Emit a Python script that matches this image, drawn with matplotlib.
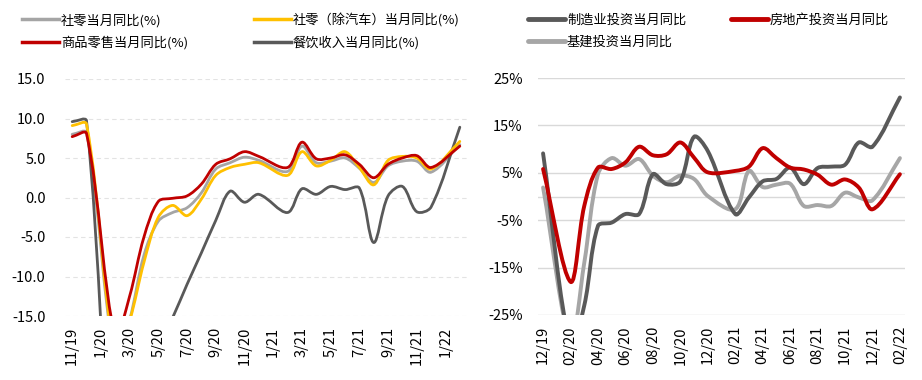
import numpy as np
import matplotlib
matplotlib.use("Agg")
import matplotlib.pyplot as plt
from matplotlib.path import Path
from matplotlib.patches import PathPatch
from matplotlib.lines import Line2D

plt.rcParams['font.family'] = ['Noto Sans CJK SC', 'DejaVu Sans']

# ---------------- data: left chart ----------------
left_months = ['11/19', '12/19', '1/20', '2/20', '3/20', '4/20', '5/20', '6/20', '7/20', '8/20',
               '9/20', '10/20', '11/20', '12/20', '1/21', '2/21', '3/21', '4/21', '5/21', '6/21',
               '7/21', '8/21', '9/21', '10/21', '11/21', '12/21', '1/22', '2/22']
retail_total = [8.0, 8.2, None, -20.5, -15.5, -7.3, -3.0, -1.9, -1.3, 0.6, 3.6, 4.4, 5.1, 4.7,
                None, 3.3, 6.5, 4.4, 4.6, 5.0, 3.7, 1.9, 4.0, 4.6, 4.6, 3.2, None, 6.7]
retail_ex_auto = [9.1, 9.3, None, -20.0, -15.6, -8.2, -2.5, -1.0, -2.3, -0.2, 2.8, 3.8, 4.2, 4.4,
                  None, 2.8, 5.8, 4.0, 4.7, 5.8, 3.8, 1.6, 4.7, 5.2, 5.0, 3.6, None, 7.1]
retail_goods = [7.7, 8.1, None, -17.6, -12.5, -5.0, -0.5, -0.1, 0.2, 1.7, 4.2, 4.9, 5.8, 5.2,
                None, 3.8, 7.0, 4.9, 5.0, 5.4, 4.2, 2.5, 4.2, 5.0, 5.3, 3.8, None, 6.5]
catering = [9.6, 9.7, None, -43.1, -46.8, -31.1, -18.9, -15.2, -11.0, -7.0, -2.9, 0.8, -0.6, 0.4,
            None, -1.9, 1.1, 0.4, 1.4, 1.0, 1.2, -5.7, 0.2, 1.4, -1.8, -1.2, None, 8.9]
left_labels = ['社零当月同比(%)', '商品零售当月同比(%)', '社零（除汽车）当月同比(%)', '餐饮收入当月同比(%)']
left_yticks = [-15, -10, -5, 0, 5, 10, 15]

# ---------------- data: right chart ----------------
right_months = ['12/19', '01/20', '02/20', '03/20', '04/20', '05/20', '06/20', '07/20', '08/20',
                '09/20', '10/20', '11/20', '12/20', '01/21', '02/21', '03/21', '04/21', '05/21',
                '06/21', '07/21', '08/21', '09/21', '10/21', '11/21', '12/21', '01/22', '02/22']
manufacturing = [9.1, None, -31.5, -23.0, -6.2, -5.5, -3.7, -3.7, 4.7, 2.6, 3.2, 12.6, 9.6,
                 None, -3.7, -0.2, 3.2, 3.7, 6.1, 2.6, 6.0, 6.3, 6.7, 11.4, 10.5, None, 20.9]
infrastructure = [1.9, None, -30.3, -14.0, 4.7, 8.1, 6.5, 7.9, 4.4, 3.0, 4.4, 3.7, 0.1,
                  None, -2.7, 5.4, 2.0, 2.5, 2.7, -2.0, -1.8, -2.0, 0.8, -0.2, -0.8, None, 8.1]
real_estate = [5.8, None, -18.0, -2.0, 6.1, 5.8, 7.2, 10.5, 8.7, 8.9, 11.4, 8.2, 5.1,
               None, 5.4, 6.3, 10.2, 8.1, 6.1, 5.7, 4.6, 2.5, 3.6, 1.9, -2.7, None, 4.7]
right_labels = ['制造业投资当月同比', '基建投资当月同比', '房地产投资当月同比']
right_yticks = [-25, -15, -5, 5, 15, 25]

TENSION = 1.0 / 3.0


def smooth_path(ax, values):
    """Smoothed (Excel-like) bezier path through the points, built in display space."""
    idx = [i for i, v in enumerate(values) if v is not None]
    data = np.array([[i, values[i]] for i in idx], dtype=float)
    P = ax.transData.transform(data)
    n = len(P)
    ctrl_in = [None] * n
    ctrl_out = [None] * n
    for i in range(n):
        p0 = P[max(i - 1, 0)]
        p1 = P[i]
        p2 = P[min(i + 1, n - 1)]
        d01 = np.hypot(*(p1 - p0))
        d12 = np.hypot(*(p2 - p1))
        tot = d01 + d12
        if tot == 0:
            ctrl_in[i] = p1
            ctrl_out[i] = p1
            continue
        fa = TENSION * d01 / tot
        fb = TENSION * d12 / tot
        ctrl_in[i] = p1 - fa * (p2 - p0)
        ctrl_out[i] = p1 + fb * (p2 - p0)
    verts = [P[0]]
    codes = [Path.MOVETO]
    for i in range(n - 1):
        verts += [ctrl_out[i], ctrl_in[i + 1], P[i + 1]]
        codes += [Path.CURVE4] * 3
    verts = ax.transData.inverted().transform(np.array(verts))
    return Path(verts, codes)


def draw(ax, values, color, lw, z=2):
    patch = PathPatch(smooth_path(ax, values), facecolor='none', edgecolor=color, lw=lw,
                      capstyle='round', joinstyle='round', zorder=z)
    ax.add_patch(patch)


fig = plt.figure(figsize=(9.22, 3.8), dpi=100)
W, H = 922, 380

C_GRAY = '#A5A5A5'
C_YEL = '#FFC000'
C_RED = '#C00000'
C_DARK = '#595959'
FS = 9.5
TFS = 10.5

# ---------------- left axes ----------------
axl = fig.add_axes([65 / W, 1 - 316 / H, 402 / W, (316 - 79) / H])
axl.set_xlim(-0.5, len(left_months) - 0.5)
axl.set_ylim(-15, 15)
draw(axl, retail_total, C_GRAY, 2.0, 2)
draw(axl, retail_ex_auto, C_YEL, 2.0, 3)
draw(axl, retail_goods, C_RED, 2.0, 4)
draw(axl, catering, C_DARK, 2.0, 2)
axl.set_yticks(left_yticks)
axl.set_yticklabels([f'{v:.1f}' for v in left_yticks])
axl.set_xticks(range(0, len(left_months), 2))
axl.set_xticklabels(left_months[::2], rotation=90)
axl.yaxis.grid(True, linestyle=(0, (4, 3)), color='#e3e3e3', lw=0.8)
axl.set_axisbelow(True)
for s in axl.spines.values():
    s.set_visible(False)
axl.tick_params(axis='both', length=0, labelsize=TFS, colors='#000000')
axl.tick_params(axis='y', pad=14)
axl.tick_params(axis='x', pad=8)

left_handles = [Line2D([], [], color=C_GRAY, lw=2.5),
                Line2D([], [], color=C_RED, lw=2.5),
                Line2D([], [], color=C_YEL, lw=2.5),
                Line2D([], [], color=C_DARK, lw=2.5)]
fig.legend(left_handles, left_labels, loc='upper left', bbox_to_anchor=(22 / W, 1 - 13 / H),
           ncol=2, frameon=False, fontsize=FS, handlelength=2.8, handletextpad=0.15,
           columnspacing=5.0, labelspacing=0.65, borderpad=0, borderaxespad=0)

# ---------------- right axes ----------------
axr = fig.add_axes([538 / W, 1 - 315 / H, 367 / W, (315 - 78) / H])
axr.set_xlim(-0.37, len(right_months) - 1 + 0.37)
axr.set_ylim(-25, 25)
draw(axr, infrastructure, '#A6A6A6', 2.8, 2)
draw(axr, manufacturing, C_DARK, 2.8, 3)
draw(axr, real_estate, C_RED, 2.8, 4)
axr.set_yticks(right_yticks)
axr.set_yticklabels([f'{v}%' for v in right_yticks])
axr.set_xticks(range(0, len(right_months), 2))
axr.set_xticklabels(right_months[::2], rotation=90)
axr.yaxis.grid(True, linestyle='-', color='#d9d9d9', lw=1.0)
axr.axhline(0, color='#d9d9d9', lw=1.0, zorder=1)
axr.set_axisbelow(True)
for s in axr.spines.values():
    s.set_visible(False)
axr.tick_params(axis='both', length=0, labelsize=TFS, colors='#000000')
axr.tick_params(axis='y', pad=11)
axr.tick_params(axis='x', pad=8)

right_handles = [Line2D([], [], color=C_DARK, lw=3.5, solid_capstyle='round'),
                 Line2D([], [], color='#A6A6A6', lw=3.5, solid_capstyle='round'),
                 Line2D([], [], color=C_RED, lw=3.5, solid_capstyle='round')]
fig.legend(right_handles, right_labels, loc='upper left', bbox_to_anchor=(528 / W, 1 - 14 / H),
           ncol=2, frameon=False, fontsize=FS, handlelength=2.8, handletextpad=0.15,
           columnspacing=3.4, labelspacing=0.65, borderpad=0, borderaxespad=0)

fig.savefig('out.png', dpi=100)
